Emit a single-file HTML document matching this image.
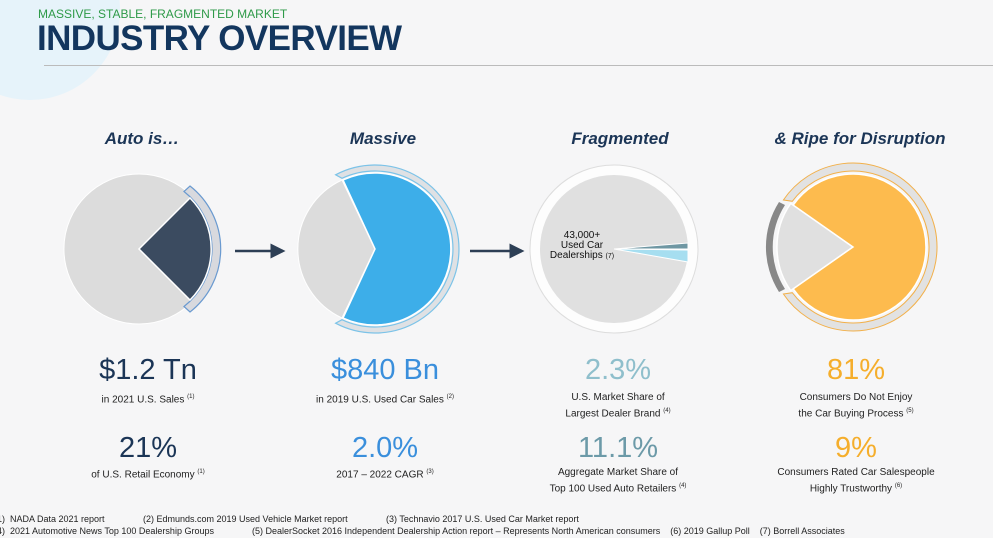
<!DOCTYPE html>
<html><head><style>
body{margin:0;width:993px;height:538px;overflow:hidden;background:#f6f6f7;font-family:"Liberation Sans",sans-serif;position:relative}
.a{position:absolute;white-space:nowrap}
.c{transform:translateX(-50%);text-align:center}
.h{font-style:italic;font-weight:bold;font-size:17px;color:#1b3556;top:129px}
.big{font-size:29px;top:354px}
.big2{font-size:29px;top:432px}
.s{font-size:10px;color:#222;line-height:13.5px}
sup{font-size:6px}
.f{font-size:9px;color:#222}
</style></head><body>
<div class="a" style="left:-60px;top:-80px;width:180px;height:180px;border-radius:50%;background:#e6f3fa"></div>
<div class="a" style="left:38px;top:7px;font-size:12px;color:#2e9a48">MASSIVE, STABLE, FRAGMENTED MARKET</div>
<div class="a" style="left:37px;top:19px;font-size:35px;font-weight:bold;color:#13365e;letter-spacing:-0.6px">INDUSTRY OVERVIEW</div>
<div class="a" style="left:44px;top:65px;width:949px;height:1px;background:#bbb"></div>
<div class="a h c" style="left:142px">Auto is…</div>
<div class="a h c" style="left:383px">Massive</div>
<div class="a h c" style="left:620px">Fragmented</div>
<div class="a h c" style="left:860px">&amp; Ripe for Disruption</div>
<svg class="a" style="left:0;top:0" width="993" height="350">
<defs><marker id="ar" markerWidth="6" markerHeight="6" refX="5" refY="3" orient="auto"><path d="M0,0L6,3L0,6z" fill="#2d3f55"/></marker></defs>
<!-- pie1 -->
<path d="M139,249 L192,196 A75,75 0 1 0 192,302 Z" fill="#dcdcdc" stroke="#fff"/>
<path d="M190,186 A80,80 0 0 1 190,312 L184,306.5 A73,73 0 0 0 184,191.5Z" fill="#d8d9de" stroke="#6a9ad0" stroke-width="1.2"/>
<path d="M139,249 L190,198 A72,72 0 0 1 190,300 Z" fill="#3b4b60" stroke="#fff" stroke-width="1.5"/>
<line x1="235" y1="251" x2="283" y2="251" stroke="#2d3f55" stroke-width="2.5" marker-end="url(#ar)"/>
<!-- pie2 -->
<path d="M375,249 L342,180 A76,76 0 0 0 342,318 Z" fill="#dcdcdc" stroke="#fff"/>
<path d="M335.6,174.8 A84,84 0 1 1 335.6,323.2 L342,319.7 A78,78 0 1 0 342,178.3Z" fill="#dfe1e4" stroke="#7cc3e8" stroke-width="1.2"/>
<path d="M375,249 L343,180 A76,76 0 1 1 343,318 Z" fill="#3daee9" stroke="#fff" stroke-width="1.5"/>
<line x1="470" y1="251" x2="522" y2="251" stroke="#2d3f55" stroke-width="2.5" marker-end="url(#ar)"/>
<!-- pie3 -->
<circle cx="614" cy="249" r="84" fill="#fdfdfd" stroke="#ddd"/>
<circle cx="614" cy="249" r="74" fill="#e0e0e0"/>
<path d="M614,249 L688,243 L688,249Z" fill="#6f97a3" stroke="#fff"/>
<path d="M614,249 L688,250 L688,262Z" fill="#a6def0" stroke="#fff"/>
<!-- pie4 -->
<path d="M779,202 A84,84 0 0 0 779,292 L785,289 A78,78 0 0 1 785,205Z" fill="#888"/>
<path d="M783.4,200 A84,84 0 1 1 783.4,294 L792.3,292.7 A76,76 0 1 0 792.3,201.3Z" fill="#e2e2e2" stroke="#f2b04a" stroke-width="1"/>
<path d="M853,247 L790.7,290.6 A76,76 0 0 1 790.7,203.4Z" fill="#e0e0e0" stroke="#fff" stroke-width="1.5"/>
<path d="M853,247 L793.2,205.1 A73,73 0 1 1 793.2,288.9Z" fill="#fdbb4e" stroke="#fff" stroke-width="1.5"/>
</svg>
<div class="a c" style="left:582px;top:231px;font-size:10px;line-height:10px;color:#111">43,000+<br>Used Car<br>Dealerships <span style="font-size:7px">(7)</span></div>
<div class="a big c" style="left:148px;color:#1b3556">$1.2 Tn</div>
<div class="a s c" style="left:148px;top:391px">in 2021 U.S. Sales <sup>(1)</sup></div>
<div class="a big2 c" style="left:148px;color:#1b3556">21%</div>
<div class="a s c" style="left:148px;top:466px">of U.S. Retail Economy <sup>(1)</sup></div>
<div class="a big c" style="left:385px;color:#3a8fdc">$840 Bn</div>
<div class="a s c" style="left:385px;top:391px">in 2019 U.S. Used Car Sales <sup>(2)</sup></div>
<div class="a big2 c" style="left:385px;color:#3a8fdc">2.0%</div>
<div class="a s c" style="left:385px;top:466px">2017 – 2022 CAGR <sup>(3)</sup></div>
<div class="a big c" style="left:618px;color:#8fbfcc">2.3%</div>
<div class="a s c" style="left:618px;top:391px">U.S. Market Share of<br>Largest Dealer Brand <sup>(4)</sup></div>
<div class="a big2 c" style="left:618px;color:#6c9aa8">11.1%</div>
<div class="a s c" style="left:618px;top:466px">Aggregate Market Share of<br>Top 100 Used Auto Retailers <sup>(4)</sup></div>
<div class="a big c" style="left:856px;color:#f5ae2c">81%</div>
<div class="a s c" style="left:856px;top:391px">Consumers Do Not Enjoy<br>the Car Buying Process <sup>(5)</sup></div>
<div class="a big2 c" style="left:856px;color:#f5ae2c">9%</div>
<div class="a s c" style="left:856px;top:466px">Consumers Rated Car Salespeople<br>Highly Trustworthy <sup>(6)</sup></div>
<div class="a f" style="left:-3px;top:514px">1)&nbsp; NADA Data 2021 report</div>
<div class="a f" style="left:143px;top:514px">(2) Edmunds.com 2019 Used Vehicle Market report</div>
<div class="a f" style="left:386px;top:514px">(3) Technavio 2017 U.S. Used Car Market report</div>
<div class="a f" style="left:-3px;top:526px">4)&nbsp; 2021 Automotive News Top 100 Dealership Groups</div>
<div class="a f" style="left:252px;top:526px">(5) DealerSocket 2016 Independent Dealership Action report – Represents North American consumers&nbsp;&nbsp;&nbsp; (6) 2019 Gallup Poll&nbsp;&nbsp;&nbsp; (7) Borrell Associates</div>
</body></html>
